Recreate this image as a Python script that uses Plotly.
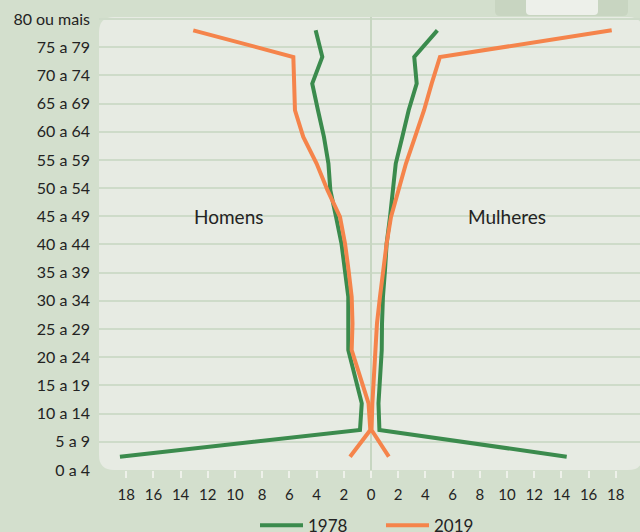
import plotly.graph_objects as go

# ---- data ----
age_groups = ["0 a 4", "5 a 9", "10 a 14", "15 a 19", "20 a 24", "25 a 29", "30 a 34",
              "35 a 39", "40 a 44", "45 a 49", "50 a 54", "55 a 59", "60 a 64",
              "65 a 69", "70 a 74", "75 a 79", "80 ou mais"]
homens_1978 = [18.46, 0.81, 0.68, 1.18, 1.67, 1.67, 1.67, 1.92, 2.17, 2.57, 2.99, 3.13,
               3.46, 3.90, 4.32, 3.58, 4.07]
mulheres_1978 = [14.39, 0.62, 0.55, 0.66, 0.79, 0.81, 0.88, 1.03, 1.15, 1.40, 1.62, 1.82,
                 2.30, 2.77, 3.36, 3.18, 4.88]
homens_2019 = [1.54, 0.05, 0.18, 0.77, 1.42, 1.36, 1.42, 1.65, 1.91, 2.28, 3.20, 4.00,
               4.98, 5.59, 5.62, 5.71, 13.07]
mulheres_2019 = [1.31, 0.04, 0.10, 0.20, 0.33, 0.44, 0.66, 0.88, 1.15, 1.47, 1.99, 2.57,
                 3.24, 3.90, 4.46, 5.07, 17.70]
x_ticks = list(range(-18, 19, 2))
x_tick_text = [str(abs(v)) for v in x_ticks]

GREEN = "#3b8b4d"
ORANGE = "#f5844b"
OUTER = "#d3dfcd"
INNER = "#e7ebe3"
GRID = "#cedbc9"
TEXT = "#232323"
FONT = "Lato"

fig = go.Figure()

for name, h, m, col in [("1978", homens_1978, mulheres_1978, GREEN),
                        ("2019", homens_2019, mulheres_2019, ORANGE)]:
    fig.add_trace(go.Scatter(x=[-v for v in h], y=age_groups, mode="lines", name=name,
                             legendgroup=name, line=dict(color=col, width=4),
                             yaxis="y2", hoverinfo="skip"))
    fig.add_trace(go.Scatter(x=m, y=age_groups, mode="lines", name=name,
                             legendgroup=name, showlegend=False,
                             line=dict(color=col, width=4),
                             yaxis="y2", hoverinfo="skip"))

def rounded(x0, x1, y0, y1, rx, ry):
    return (f"M{x0+rx},{y0} L{x1-rx},{y0} Q{x1},{y0} {x1},{y0+ry} "
            f"L{x1},{y1-ry} Q{x1},{y1} {x1-rx},{y1} L{x0+rx},{y1} "
            f"Q{x0},{y1} {x0},{y1-ry} L{x0},{y0+ry} Q{x0},{y0} {x0+rx},{y0} Z")

PW, PH = 541.0, 453.0
shapes = [
    dict(type="path", xref="paper", yref="paper", layer="below",
         path=rounded(0, 1 + 3 / PW, 0, 1, 15 / PW, 15 / PH),
         fillcolor=INNER, line=dict(width=0)),
    dict(type="path", xref="paper", yref="paper", layer="below",
         path=rounded((495 - 99) / PW, (628 - 99) / PW, 1 + 1 / PH, 1 + 22 / PH, 5 / PW, 5 / PH),
         fillcolor="#c8d5c1", line=dict(width=0)),
    dict(type="path", xref="paper", yref="paper", layer="below",
         path=rounded((526 - 99) / PW, (598 - 99) / PW, 1 + 2 / PH, 1 + 22 / PH, 4 / PW, 4 / PH),
         fillcolor="#edf0ea", line=dict(width=0)),
]

fig.update_layout(
    width=640, height=532,
    margin=dict(l=99, r=0, t=17, b=62, autoexpand=False),
    paper_bgcolor=OUTER, plot_bgcolor="rgba(0,0,0,0)",
    font=dict(family=FONT, color=TEXT, size=15),
    shapes=shapes,
    showlegend=True,
    legend=dict(orientation="h", x=(255 - 99) / PW, xanchor="left", xref="paper",
                y=0.012, yanchor="middle", yref="container",
                font=dict(size=17, color=TEXT), entrywidth=68, itemwidth=43,
                bgcolor="rgba(0,0,0,0)"),
    xaxis=dict(range=[-20, 19.78], tickvals=x_ticks, ticktext=x_tick_text,
               showgrid=False, zeroline=True, zerolinecolor="#c7d6c1", zerolinewidth=2,
               ticks="outside", ticklen=7, tickwidth=2, tickcolor="#eef1ea",
               ticklabelstandoff=4, tickfont=dict(size=15, color=TEXT),
               showline=False, fixedrange=True, automargin=False),
    yaxis=dict(range=[0, 16.07], tickvals=list(range(len(age_groups))), ticktext=age_groups,
               showgrid=True, gridcolor=GRID, gridwidth=2, zeroline=False,
               ticks="", ticklabelstandoff=8, tickfont=dict(size=16, color=TEXT),
               showline=False, fixedrange=True, automargin=False),
    yaxis2=dict(type="category", categoryorder="array", categoryarray=age_groups,
                range=[-0.5, 16.5], overlaying="y", visible=False, fixedrange=True,
                automargin=False),
    annotations=[
        dict(x=-10.5, y=9, xref="x", yref="y", text="Homens", showarrow=False,
             font=dict(size=19, color=TEXT)),
        dict(x=10.0, y=9, xref="x", yref="y", text="Mulheres", showarrow=False,
             font=dict(size=19, color=TEXT)),
    ],
)

fig.write_html("out.html", config={"displayModeBar": False},
               post_script="document.body.style.margin='0';document.body.style.background='" + OUTER + "';")
